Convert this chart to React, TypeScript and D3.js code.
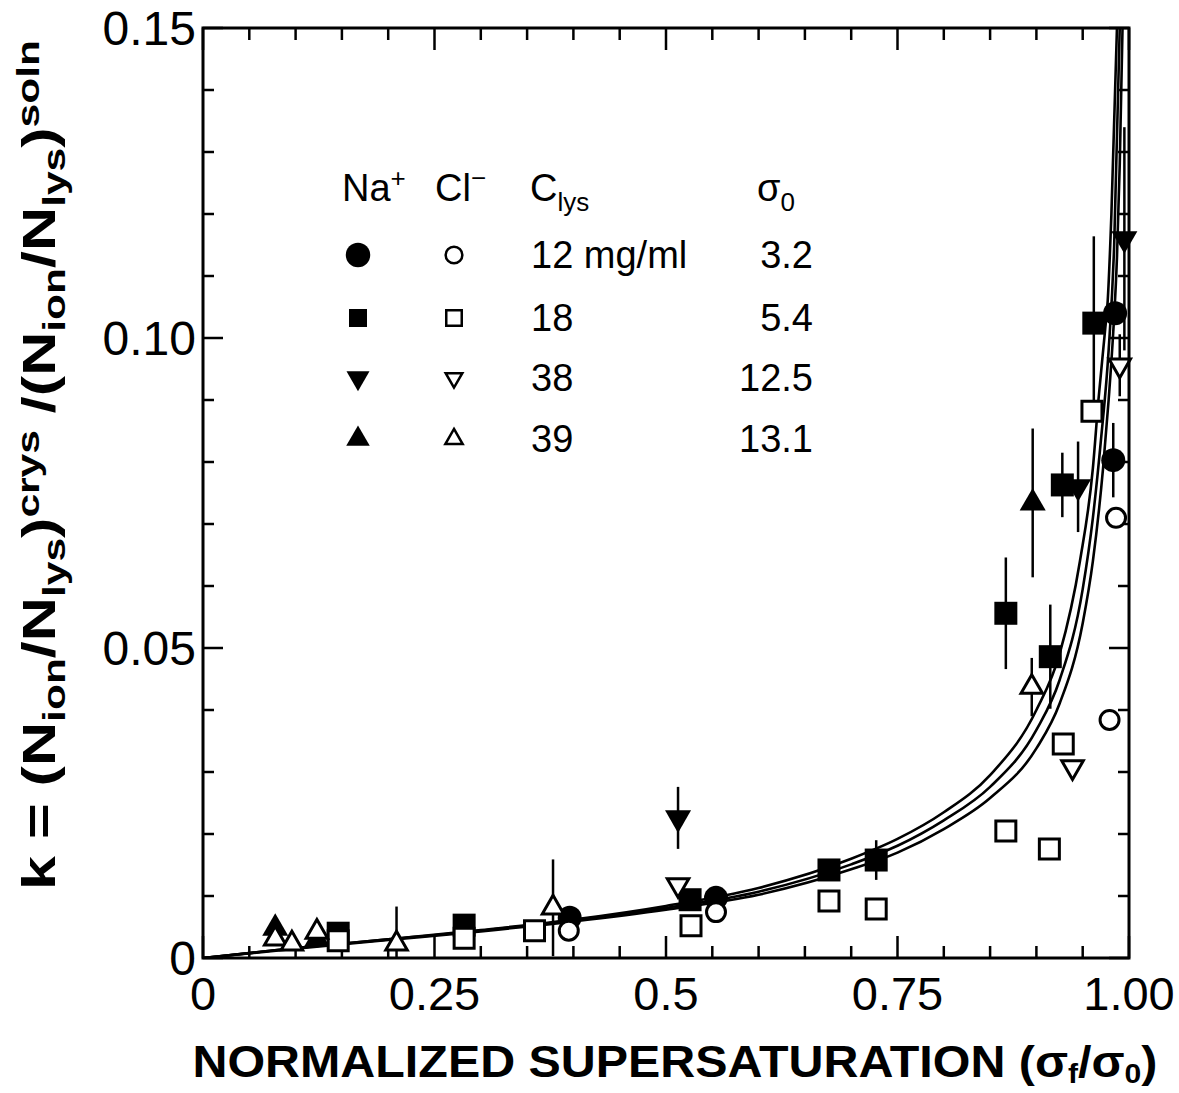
import * as d3 from 'd3'

const xTicks = [0, 0.25, 0.5, 0.75, 1.0]
const xTickLabels = ['0', '0.25', '0.5', '0.75', '1.00']
const yTicks = [0, 0.05, 0.1, 0.15]
const yTickLabels = ['0', '0.05', '0.10', '0.15']

// [sigma_f / sigma_0, k, error bar half-length]
const naCircle = [
  [0.396, 0.0065, 0],
  [0.554, 0.0097, 0],
  [0.983, 0.0803, 0.006],
  [0.985, 0.104, 0],
]
const clCircle = [
  [0.395, 0.0044, 0],
  [0.554, 0.0074, 0],
  [0.979, 0.0384, 0],
  [0.986, 0.071, 0],
]
const naSquare = [
  [0.146, 0.004, 0],
  [0.282, 0.0053, 0],
  [0.526, 0.0094, 0],
  [0.676, 0.0142, 0],
  [0.727, 0.0158, 0.0032],
  [0.867, 0.0556, 0.009],
  [0.915, 0.0486, 0.0084],
  [0.928, 0.0763, 0.0052],
  [0.962, 0.1024, 0.014],
]
const clSquare = [
  [0.146, 0.0028, 0],
  [0.282, 0.0032, 0],
  [0.358, 0.0044, 0],
  [0.527, 0.0052, 0],
  [0.676, 0.0092, 0],
  [0.727, 0.0079, 0],
  [0.867, 0.0205, 0],
  [0.914, 0.0176, 0],
  [0.929, 0.0345, 0],
  [0.96, 0.0882, 0],
]
const naTriDown = [
  [0.513, 0.0226, 0.005],
  [0.945, 0.076, 0.0073],
  [0.995, 0.116, 0.018],
]
const clTriDown = [
  [0.513, 0.0118, 0],
  [0.939, 0.0308, 0],
  [0.99, 0.0956, 0.005],
]
const naTriUp = [
  [0.078, 0.0048, 0],
  [0.123, 0.003, 0],
  [0.896, 0.0734, 0.012],
]
const clTriUp = [
  [0.078, 0.0031, 0],
  [0.096, 0.0023, 0],
  [0.123, 0.0042, 0],
  [0.209, 0.0023, 0.006],
  [0.378, 0.0081, 0.0078],
  [0.895, 0.0437, 0.0047],
]

// fitted curves
const fitTop = [
  [0, 0], [0.1, 0.0016], [0.2, 0.003], [0.3, 0.0045], [0.4, 0.0062], [0.5, 0.0084],
  [0.6, 0.0113], [0.7, 0.016], [0.75, 0.0192], [0.8, 0.0235], [0.85, 0.0295], [0.9, 0.04],
  [0.925, 0.049], [0.947, 0.064], [0.961, 0.079], [0.967, 0.09], [0.974, 0.101],
  [0.977, 0.106], [0.981, 0.12], [0.987, 0.15],
]
const fitMid = [
  [0, 0], [0.1, 0.0016], [0.2, 0.003], [0.3, 0.0044], [0.4, 0.0061], [0.5, 0.0081],
  [0.6, 0.0107], [0.7, 0.0151], [0.75, 0.0181], [0.8, 0.0222], [0.85, 0.0276], [0.9, 0.0368],
  [0.925, 0.0448], [0.95, 0.0595], [0.961, 0.071], [0.97, 0.084], [0.978, 0.098],
  [0.984, 0.115], [0.99, 0.15],
]
const fitLow = [
  [0, 0], [0.1, 0.0015], [0.2, 0.0029], [0.3, 0.0043], [0.4, 0.0059], [0.5, 0.0078],
  [0.6, 0.0102], [0.7, 0.0143], [0.75, 0.017], [0.8, 0.0208], [0.85, 0.0258], [0.9, 0.0338],
  [0.925, 0.041], [0.95, 0.054], [0.961, 0.064], [0.972, 0.079], [0.978, 0.09],
  [0.983, 0.101], [0.987, 0.113], [0.99, 0.128], [0.993, 0.15],
]

const legendConc = ['12 mg/ml', '18', '38', '39']
const legendSigma = ['3.2', '5.4', '12.5', '13.1']

const FONT = "'Liberation Sans', Arial, Helvetica, sans-serif"

export default function App() {
  const W = 1179
  const H = 1093
  const x = d3.scaleLinear().domain([0, 1]).range([203, 1129])
  const y = d3.scaleLinear().domain([0, 0.15]).range([958, 28])
  const [x0, x1] = x.range()
  const [y0, y1] = y.range()

  const line = d3
    .line<number[]>()
    .x((d) => x(d[0]))
    .y((d) => y(d[1]))
    .curve(d3.curveMonotoneX)

  const shape = (type: d3.SymbolType, size: number) => d3.symbol().type(type).size(size)() || ''

  const series = [
    { data: naSquare, type: d3.symbolSquare, filled: true, down: false, size: 529 },
    { data: naCircle, type: d3.symbolCircle, filled: true, down: false, size: 452 },
    { data: naTriUp, type: d3.symbolTriangle, filled: true, down: false, size: 293 },
    { data: naTriDown, type: d3.symbolTriangle, filled: true, down: true, size: 293 },
    { data: clSquare, type: d3.symbolSquare, filled: false, down: false, size: 400 },
    { data: clCircle, type: d3.symbolCircle, filled: false, down: false, size: 283 },
    { data: clTriUp, type: d3.symbolTriangle, filled: false, down: false, size: 200 },
    { data: clTriDown, type: d3.symbolTriangle, filled: false, down: true, size: 200 },
  ]

  const legendSyms = [
    { type: d3.symbolCircle, filledSize: 470, openSize: 220, down: false },
    { type: d3.symbolSquare, filledSize: 324, openSize: 240, down: false },
    { type: d3.symbolTriangle, filledSize: 230, openSize: 120, down: true },
    { type: d3.symbolTriangle, filledSize: 240, openSize: 130, down: false },
  ]
  const legendBase = [268, 331, 391, 452]

  const xMinor = d3.range(0, 1.0001, 0.05)
  const yMinor = d3.range(0, 0.15001, 0.01)
  const isMajorX = (v: number) => Math.abs(v * 4 - Math.round(v * 4)) < 1e-6
  const isMajorY = (v: number) => Math.abs(v * 20 - Math.round(v * 20)) < 1e-6

  return (
    <svg
      width={W}
      height={H}
      viewBox={`0 0 ${W} ${H}`}
      style={{ position: 'absolute', left: 0, top: 0, background: '#fff' }}
      fontFamily={FONT}
    >
      <defs>
        <clipPath id="plot">
          <rect x={x0} y={y1} width={x1 - x0} height={y0 - y1} />
        </clipPath>
      </defs>
      <rect x={0} y={0} width={W} height={H} fill="#fff" />

      {/* ticks */}
      {xMinor.map((v, i) => {
        const len = isMajorX(v) ? 22 : 12
        return (
          <g key={'xt' + i} stroke="#000" strokeWidth={2.5}>
            <line x1={x(v)} x2={x(v)} y1={y0} y2={y0 - len} />
            <line x1={x(v)} x2={x(v)} y1={y1} y2={y1 + len} />
          </g>
        )
      })}
      {yMinor.map((v, i) => {
        const len = isMajorY(v) ? 20 : 11
        return (
          <g key={'yt' + i} stroke="#000" strokeWidth={2.5}>
            <line x1={x0} x2={x0 + len} y1={y(v)} y2={y(v)} />
            <line x1={x1} x2={x1 - len} y1={y(v)} y2={y(v)} />
          </g>
        )
      })}

      {/* fitted curves */}
      <g clipPath="url(#plot)" fill="none" stroke="#000" strokeWidth={2.6}>
        {[fitTop, fitMid, fitLow].map((c, i) => (
          <path key={'c' + i} d={line(c) || ''} />
        ))}
      </g>

      {/* error bars */}
      <g stroke="#000" strokeWidth={2.5} clipPath="url(#plot)">
        {series.map((s, si) =>
          s.data
            .filter((d) => d[2] > 0)
            .map((d, i) => (
              <line
                key={'e' + si + '-' + i}
                x1={x(d[0])}
                x2={x(d[0])}
                y1={y(Math.max(0, d[1] - d[2]))}
                y2={y(d[1] + d[2])}
              />
            ))
        )}
      </g>

      {/* data points */}
      {series.map((s, si) => (
        <g key={'s' + si}>
          {s.data.map((d, i) => (
            <path
              key={i}
              d={shape(s.type, s.size)}
              transform={`translate(${x(d[0])},${y(d[1])})${s.down ? ' rotate(180)' : ''}`}
              fill={s.filled ? '#000' : '#fff'}
              stroke="#000"
              strokeWidth={s.filled ? 0 : 3}
            />
          ))}
        </g>
      ))}

      {/* frame */}
      <rect x={x0} y={y1} width={x1 - x0} height={y0 - y1} fill="none" stroke="#000" strokeWidth={3} />

      {/* tick labels */}
      {xTicks.map((v, i) => (
        <text key={'xl' + i} x={x(v)} y={1010} fontSize={47} textAnchor="middle">
          {xTickLabels[i]}
        </text>
      ))}
      {yTicks.map((v, i) => (
        <text key={'yl' + i} x={196} y={y(v) + 17} fontSize={48} textAnchor="end">
          {yTickLabels[i]}
        </text>
      ))}

      {/* axis titles */}
      <text
        x={675}
        y={1077}
        fontSize={45}
        fontWeight="bold"
        textAnchor="middle"
        textLength={965}
        lengthAdjust="spacingAndGlyphs"
      >
        NORMALIZED SUPERSATURATION (σ<tspan fontSize={28} dy={6}>f</tspan>
        <tspan dy={-6}>/σ</tspan>
        <tspan fontSize={28} dy={6}>0</tspan>
        <tspan dy={-6}>)</tspan>
      </text>
      <text
        transform="translate(55,465) rotate(-90)"
        fontSize={46}
        fontWeight="bold"
        textAnchor="middle"
        textLength={850}
        lengthAdjust="spacingAndGlyphs"
      >
        k = (N<tspan fontSize={32} dy={10}>ion</tspan>
        <tspan dy={-10}>/N</tspan>
        <tspan fontSize={32} dy={10}>lys</tspan>
        <tspan dy={-10}>)</tspan>
        <tspan fontSize={32} dy={-16}>crys</tspan>
        <tspan dy={16}> /(N</tspan>
        <tspan fontSize={32} dy={10}>ion</tspan>
        <tspan dy={-10}>/N</tspan>
        <tspan fontSize={32} dy={10}>lys</tspan>
        <tspan dy={-10}>)</tspan>
        <tspan fontSize={32} dy={-16}>soln</tspan>
      </text>

      {/* legend */}
      <g fontSize={38}>
        <text x={342} y={201}>
          Na<tspan fontSize={26} dy={-14}>+</tspan>
        </text>
        <text x={435} y={201}>
          Cl<tspan fontSize={26} dy={-14}>−</tspan>
        </text>
        <text x={530} y={201}>
          C<tspan fontSize={26} dy={10}>lys</tspan>
        </text>
        <text x={757} y={201}>
          σ<tspan fontSize={26} dy={10}>0</tspan>
        </text>
        {legendSyms.map((s, i) => (
          <g key={'lg' + i}>
            <path
              d={shape(s.type, s.filledSize)}
              transform={`translate(358,${legendBase[i] - 13})${s.down ? ' rotate(180)' : ''}`}
              fill="#000"
            />
            <path
              d={shape(s.type, s.openSize)}
              transform={`translate(454,${legendBase[i] - 13})${s.down ? ' rotate(180)' : ''}`}
              fill="#fff"
              stroke="#000"
              strokeWidth={2.5}
            />
            <text x={531} y={legendBase[i]}>
              {legendConc[i]}
            </text>
            <text x={813} y={legendBase[i]} textAnchor="end">
              {legendSigma[i]}
            </text>
          </g>
        ))}
      </g>
    </svg>
  )
}
